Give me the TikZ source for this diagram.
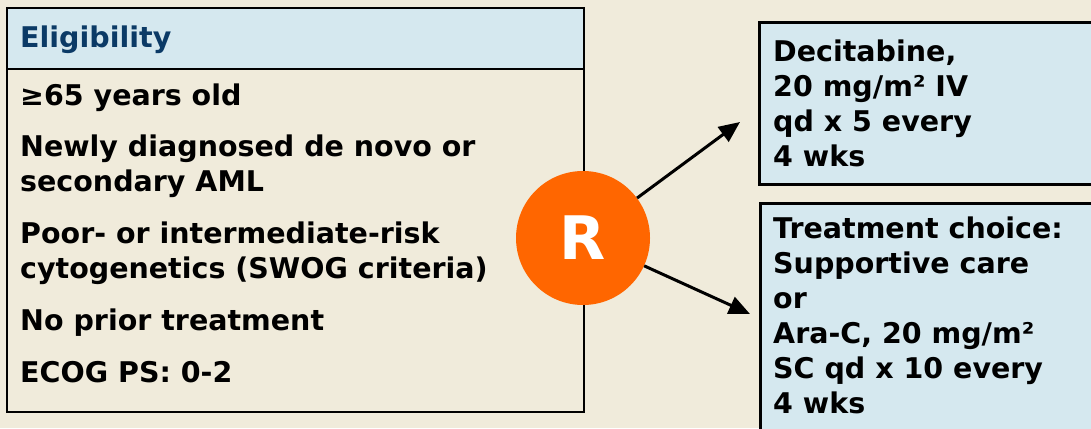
\documentclass[tikz,border=0pt]{standalone}
\usepackage{fontspec}
\setmainfont{DejaVu Sans}
\usepackage{tikz}
\usetikzlibrary{arrows.meta,positioning}
\definecolor{paper}{HTML}{F0EBDB}
\definecolor{lightblue}{HTML}{D5E8EF}
\definecolor{navy}{HTML}{0B3A66}
\definecolor{rorange}{HTML}{FF6600}

\begin{document}
\begin{tikzpicture}[x=1pt,y=-1pt]
    \tikzset{box/.style = {rectangle, draw=black, line width=2pt, anchor=north west, inner sep=0pt}}
    \tikzset{arm/.style = {box, fill=lightblue, line width=3pt}}
    \tikzset{txt/.style = {anchor=base west, align=left, inner sep=0pt, font=\fontsize{28.5}{35}\selectfont\bfseries}}
    \tikzset{rand/.style = {circle, fill=rorange, minimum size=134pt, inner sep=0pt, text=white, font=\fontsize{60}{60}\selectfont\bfseries}}
    \tikzset{arrow/.style = {-{Triangle[length=21pt,width=18pt]}, line width=3pt}}
    \useasboundingbox (0,0) rectangle (1091,428);
    \clip (0,0) rectangle (1091,428);
    \fill[paper] (0,0) rectangle (1091,428);
    % eligibility box (base anchor = last line)
    \node[box, fill=paper, minimum width=577pt, minimum height=404pt] (elig) at (6,7) {};
    \node[box, fill=lightblue, minimum width=577pt, minimum height=61pt] (head) at (6,7) {};
    \node[txt, text=navy] (headtxt) at (20,48) {Eligibility};
    \node[txt] (age) at (20,105) {≥65 years old};
    \node[txt] (aml) at (20,191) {Newly diagnosed de novo or\\secondary AML};
    \node[txt] (cyto) at (20,278) {Poor- or intermediate-risk\\cytogenetics (SWOG criteria)};
    \node[txt] (prior) at (20,330) {No prior treatment};
    \node[txt] (ecog) at (20,382) {ECOG PS: 0-2};
    % treatment arms
    \node[arm, minimum width=400pt, minimum height=162pt] (deci) at (758,21) {};
    \node[txt] (decitxt) at (773,166) {Decitabine,\\20 mg/m² IV\\qd x 5 every\\4 wks};
    \node[arm, minimum width=400pt, minimum height=240pt] (choice) at (759,202) {};
    \node[txt] (choicetxt) at (773,413) {Treatment choice:\\Supportive care\\or\\Ara-C, 20 mg/m²\\SC qd x 10 every\\4 wks};
    % randomisation
    \node[rand] (R) at (583,238) {R};
    \coordinate (uptip) at (740,122);
    \coordinate (downtip) at (750,314);
    \draw[arrow] (R) -- (uptip);
    \draw[arrow] (R) -- (downtip);
  \end{tikzpicture}
\end{document}
